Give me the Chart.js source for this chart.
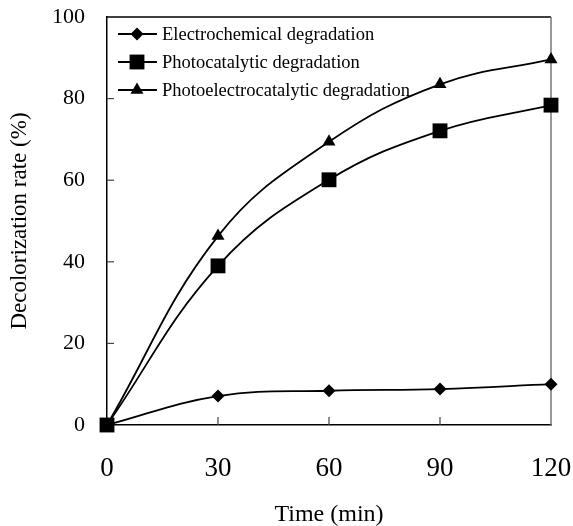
<!DOCTYPE html>
<html>
<head>
<meta charset="utf-8">
<script src="https://cdn.jsdelivr.net/npm/chart.js@4/dist/chart.umd.min.js"></script>
<style>
  html, body { margin: 0; padding: 0; background: #fff; }
  #contenedor { width: 573px; height: 526px; }
</style>
</head>
<body>
<div id="contenedor"><canvas id="graficoDecoloracion"></canvas></div>
<script>
// Datos
const tiempos = [0, 30, 60, 90, 120];
const electroquimica = [0, 7.1, 8.4, 8.8, 10.0];
const fotocatalitica = [0, 39.0, 60.1, 72.1, 78.4];
const fotoelectrocatalitica = [0, 46.3, 69.4, 83.5, 89.6];
const nombresSeries = [
  "Electrochemical degradation",
  "Photocatalytic degradation",
  "Photoelectrocatalytic degradation",
];
const ticksX = [0, 30, 60, 90, 120];
const ticksY = [0, 20, 40, 60, 80, 100];

const fuente = "'Liberation Serif', 'Times New Roman', serif";
const marcadores = [
  { pointStyle: "rectRot", radius: 6.5 },
  { pointStyle: "rect", radius: 10.5 },
  { pointStyle: "triangle", radius: 7.5 },
];

function serie(valores, i) {
  return {
    label: nombresSeries[i],
    data: tiempos.map((t, k) => ({ x: t, y: valores[k] })),
    borderColor: "#000",
    backgroundColor: "#000",
    borderWidth: 1.8,
    tension: 0.4,
    pointStyle: marcadores[i].pointStyle,
    pointRadius: marcadores[i].radius,
    pointHoverRadius: marcadores[i].radius,
    pointBorderWidth: 0,
    clip: false,
  };
}

// Marco, ticks hacia dentro y leyenda con linea + marcador
const marcoYLeyenda = {
  id: "marcoYLeyenda",
  beforeDatasetsDraw(chart) {
    const { ctx, chartArea: a, scales } = chart;
    ctx.save();
    ctx.lineWidth = 1.5;
    ctx.strokeStyle = "#000";
    ctx.beginPath();
    ctx.moveTo(a.left, a.top);
    ctx.lineTo(a.right, a.top);
    ctx.stroke();
    ctx.strokeStyle = "#777";
    ctx.beginPath();
    ctx.moveTo(a.right, a.top);
    ctx.lineTo(a.right, a.bottom);
    ctx.stroke();
    ctx.strokeStyle = "#444";
    ctx.lineWidth = 1.2;
    ticksX.slice(1, -1).forEach((v) => {
      const px = scales.x.getPixelForValue(v);
      ctx.beginPath();
      ctx.moveTo(px, a.bottom);
      ctx.lineTo(px, a.bottom - 8);
      ctx.stroke();
    });
    ticksY.slice(1, -1).forEach((v) => {
      const py = scales.y.getPixelForValue(v);
      ctx.beginPath();
      ctx.moveTo(a.left, py);
      ctx.lineTo(a.left + 7, py);
      ctx.stroke();
    });
    ctx.restore();
  },
  afterDraw(chart) {
    const ctx = chart.ctx;
    ctx.save();
    ctx.fillStyle = "#000";
    ctx.strokeStyle = "#000";
    ctx.font = "18.5px " + fuente;
    ctx.textBaseline = "middle";
    nombresSeries.forEach((nombre, i) => {
      const y = 34 + i * 28;
      ctx.lineWidth = 1.8;
      ctx.beginPath();
      ctx.moveTo(118, y);
      ctx.lineTo(157, y);
      ctx.stroke();
      Chart.helpers.drawPoint(
        ctx,
        { pointStyle: marcadores[i].pointStyle, radius: marcadores[i].radius, rotation: 0, borderWidth: 0 },
        137,
        y
      );
      ctx.fillText(nombre, 162, y + 1);
    });
    ctx.restore();
  },
};

new Chart(document.getElementById("graficoDecoloracion"), {
  type: "line",
  data: {
    datasets: [
      serie(electroquimica, 0),
      serie(fotocatalitica, 1),
      serie(fotoelectrocatalitica, 2),
    ],
  },
  options: {
    responsive: true,
    maintainAspectRatio: false,
    animation: false,
    events: [],
    layout: { padding: { left: 0, right: 22, top: 17, bottom: 0 } },
    plugins: { legend: { display: false }, tooltip: { enabled: false } },
    scales: {
      x: {
        type: "linear",
        min: 0,
        max: 120,
        afterBuildTicks: (s) => { s.ticks = ticksX.map((v) => ({ value: v })); },
        afterFit: (s) => { s.height = 101; s.paddingLeft = 0; s.paddingRight = 0; },
        grid: { display: true, drawOnChartArea: false, drawTicks: false },
        border: { display: true, color: "#000", width: 1.5 },
        ticks: { padding: 28, color: "#000", font: { family: fuente, size: 27 } },
        title: {
          display: true,
          text: "Time (min)",
          color: "#000",
          font: { family: fuente, size: 24, lineHeight: 0.9 },
          padding: { top: 0, bottom: 0 },
        },
      },
      y: {
        type: "linear",
        min: 0,
        max: 100,
        afterBuildTicks: (s) => { s.ticks = ticksY.map((v) => ({ value: v })); },
        afterFit: (s) => { s.width = 107; s.paddingTop = 0; s.paddingBottom = 0; },
        grid: { display: true, drawOnChartArea: false, drawTicks: false },
        border: { display: true, color: "#000", width: 1.5 },
        ticks: { padding: 22, color: "#000", font: { family: fuente, size: 22 } },
        title: {
          display: true,
          text: "Decolorization rate (%)",
          color: "#000",
          font: { family: fuente, size: 23 },
          padding: { top: 6, bottom: 0 },
        },
      },
    },
  },
  plugins: [marcoYLeyenda],
});
</script>
</body>
</html>
